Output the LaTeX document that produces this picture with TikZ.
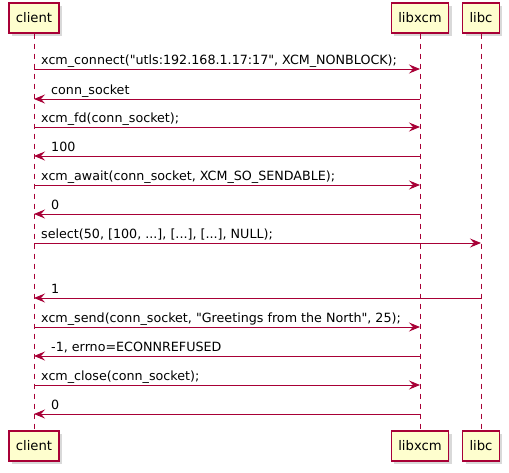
\documentclass[tikz,border=0pt]{standalone}
\usepackage{fontspec}
\setmainfont{DejaVu Sans}
\usetikzlibrary{arrows.meta,shadows,positioning}
\definecolor{umlred}{HTML}{A80036}
\definecolor{umlbox}{HTML}{FEFECE}
\begin{document}
\begin{tikzpicture}[x=1pt,y=-1pt,>={Stealth[length=11pt,width=9pt,inset=4pt]},
	font=\fontsize{12.7}{14}\selectfont,
	actor/.style={draw=umlred, fill=umlbox, line width=1.3pt, minimum height=30pt, inner xsep=7pt,
		font=\fontsize{13.2}{15}\selectfont, drop shadow={shadow xshift=3pt, shadow yshift=-3pt, opacity=0.3}},
	lifeline/.style={draw=umlred, line width=0.8pt, dash pattern=on 5pt off 5pt},
	msg/.style={draw=umlred, line width=0.9pt, ->},
	msgtext/.style={anchor=base west, inner sep=0pt}]
	\useasboundingbox (0,0) rectangle (509,472);
	% participants, top and bottom
	\node[actor] (clientT) at (34,18) {client};
	\node[actor] (libxcmT) at (420,18) {libxcm};
	\node[actor] (libcT) at (481,18) {libc};
	\node[actor] (clientB) at (34,446) {client};
	\node[actor] (libxcmB) at (420,446) {libxcm};
	\node[actor] (libcB) at (481,446) {libc};
	\foreach \p in {client,libxcm,libc}
	\draw[lifeline] (\p T.south) -- (\p B.north);
	% messages
	\foreach \i/\y/\a/\b/\d/\t in {
		1/69/client/libxcm/7/{xcm\_connect(\textquotedbl utls:192.168.1.17:17\textquotedbl, XCM\_NONBLOCK);},
		2/99/libxcm/client/17/{conn\_socket},
		3/127/client/libxcm/7/{xcm\_fd(conn\_socket);},
		4/156/libxcm/client/17/{100},
		5/185/client/libxcm/7/{xcm\_await(conn\_socket, XCM\_SO\_SENDABLE);},
		6/214/libxcm/client/17/{0},
		7/243/client/libc/7/{select(50, [100, ...], [...], [...], NULL);},
		8/298/libc/client/17/{1},
		9/327/client/libxcm/7/{xcm\_send(conn\_socket, \textquotedbl Greetings from the North\textquotedbl, 25);},
		10/356/libxcm/client/17/{-1, errno=ECONNREFUSED},
		11/385/client/libxcm/7/{xcm\_close(conn\_socket);},
		12/414/libxcm/client/17/{0}}{
		\coordinate (s\i) at (\a T |- 0,\y);
		\coordinate (e\i) at (\b T |- 0,\y);
		\draw[msg] (s\i) -- (e\i);
		\node[msgtext] (m\i) at ([xshift=\d pt, yshift=5pt]clientT |- s\i) {\t};
	}
\end{tikzpicture}
\end{document}
